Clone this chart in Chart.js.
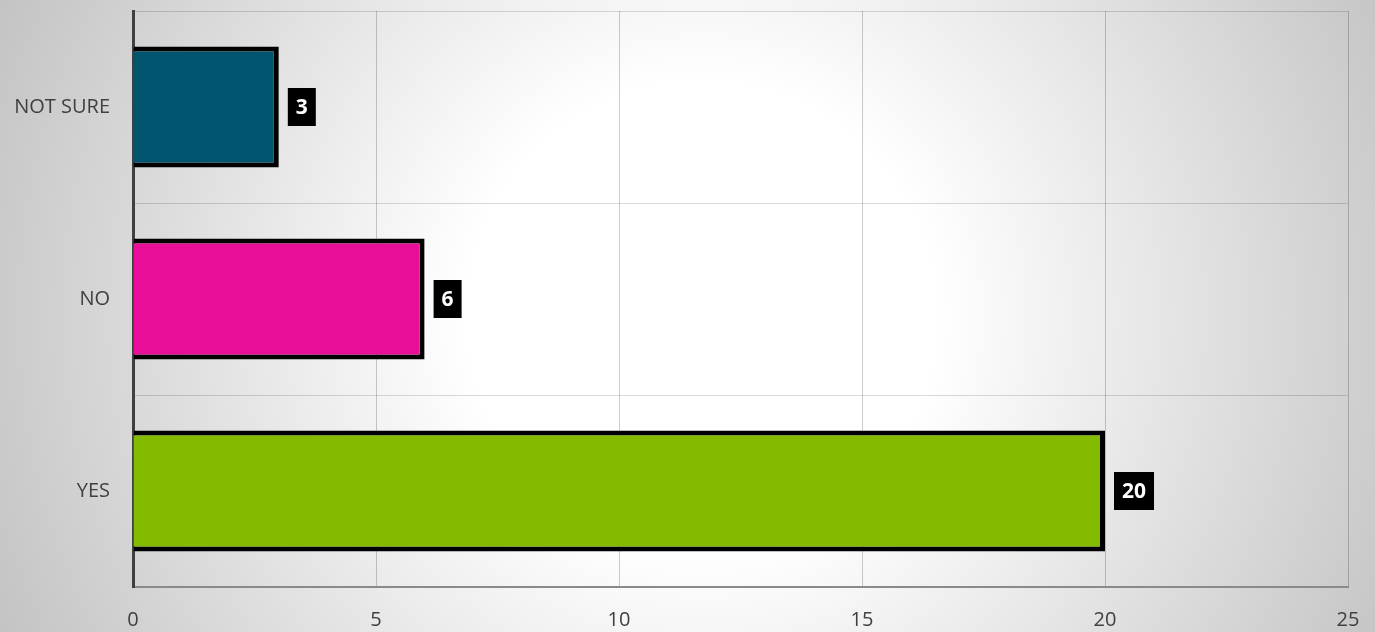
<!DOCTYPE html>
<html>
<head>
<meta charset="utf-8">
<script src="https://cdn.jsdelivr.net/npm/chart.js@4/dist/chart.umd.min.js"></script>
<style>
  html, body { margin: 0; padding: 0; background: #fff; }
  #wrap { width: 1375px; height: 632px; position: relative; }
</style>
</head>
<body>
<div id="wrap"><canvas id="chart"></canvas></div>
<script>
// answers and counts, top to bottom
const categories = ['NOT SURE', 'NO', 'YES'];
const counts = [3, 6, 20];
const barColors = ['#02556f', '#e80e98', '#83bb00'];
const xTicks = [0, 5, 10, 15, 20, 25];

const FONT = "'Open Sans', sans-serif";

// grey vignette behind everything
const backgroundPlugin = {
  id: 'bgGradient',
  beforeDraw(chart) {
    const { ctx, width, height } = chart;
    const cx = width * 0.51, cy = height * 0.5;
    const g = ctx.createRadialGradient(cx, cy, 0, cx, cy, 780);
    g.addColorStop(0, '#ffffff');
    g.addColorStop(0.3, '#ffffff');
    g.addColorStop(1, '#c2c2c2');
    ctx.save();
    ctx.fillStyle = g;
    ctx.fillRect(0, 0, width, height);
    ctx.restore();
  }
};

// black boxes with white numbers next to each bar
const valueBoxes = {
  id: 'valueBoxes',
  afterDatasetsDraw(chart) {
    const { ctx } = chart;
    const meta = chart.getDatasetMeta(0);
    ctx.save();
    ctx.font = `bold 21px ${FONT}`;
    ctx.textAlign = 'center';
    ctx.textBaseline = 'middle';
    meta.data.forEach((bar, i) => {
      const txt = String(counts[i]);
      const w = ctx.measureText(txt).width + 16;
      const h = 38;
      const left = bar.x + 9;
      ctx.fillStyle = '#000';
      ctx.fillRect(left, bar.y - h / 2, w, h);
      ctx.fillStyle = '#fff';
      ctx.fillText(txt, left + w / 2, bar.y + 1);
    });
    ctx.restore();
  }
};

new Chart(document.getElementById('chart'), {
  type: 'bar',
  data: {
    labels: categories,
    datasets: [{
      data: counts,
      backgroundColor: barColors,
      borderColor: '#000',
      borderWidth: 5,
      categoryPercentage: 1,
      barPercentage: 0.63
    }]
  },
  options: {
    indexAxis: 'y',
    responsive: true,
    maintainAspectRatio: false,
    animation: false,
    layout: { padding: { top: 11, right: 27, left: 0, bottom: 0 } },
    plugins: {
      legend: { display: false },
      tooltip: { enabled: false }
    },
    scales: {
      x: {
        min: 0,
        max: 25,
        afterBuildTicks: (scale) => { scale.ticks = xTicks.map(v => ({ value: v })); },
        afterFit: (scale) => { scale.height = 45; scale.paddingRight = 0; scale.paddingLeft = 0; },
        grid: { color: 'rgba(0,0,0,0.2)', lineWidth: 1, drawTicks: false },
        border: { color: '#8a8a8a', width: 2 },
        ticks: { color: '#404040', font: { family: FONT, size: 20 }, padding: 21 }
      },
      y: {
        afterFit: (scale) => { scale.width = 133; scale.paddingTop = 0; scale.paddingBottom = 0; },
        grid: { color: 'rgba(0,0,0,0.15)', lineWidth: 1, drawTicks: false, offset: true },
        border: { color: '#404040', width: 3 },
        ticks: { color: '#404040', font: { family: FONT, size: 20 }, padding: 23 }
      }
    }
  },
  plugins: [backgroundPlugin, valueBoxes]
});
</script>
</body>
</html>
